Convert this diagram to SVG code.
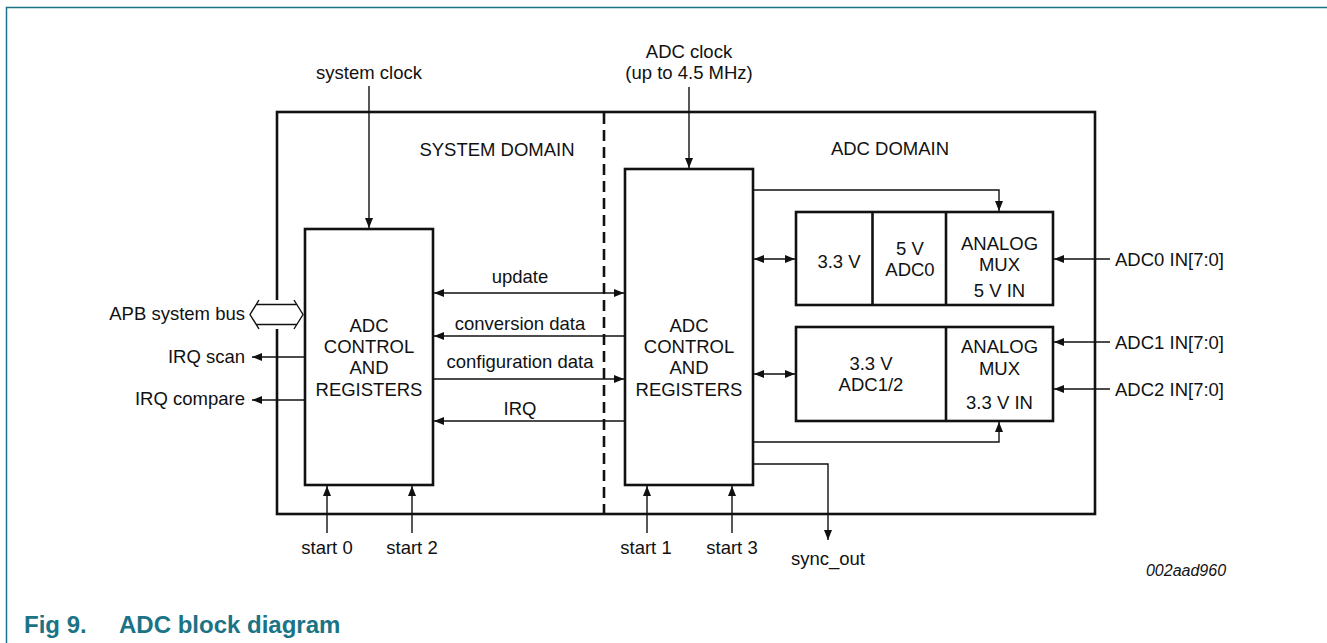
<svg xmlns="http://www.w3.org/2000/svg" width="1327" height="643" viewBox="0 0 1327 643">
<style>
text{font-family:"Liberation Sans",Arial,sans-serif;font-size:18.5px;fill:#111}
.c{text-anchor:middle}
.e{text-anchor:end}
.blk{fill:#fff;stroke:#111;stroke-width:2.6}
.ln{fill:none;stroke:#111;stroke-width:1.4}
.fig{font-weight:bold;font-size:24px;fill:#1b7386}
</style>
<defs>
<marker id="ah" viewBox="0 0 10 8" refX="10" refY="4" markerWidth="10" markerHeight="8" orient="auto-start-reverse" markerUnits="userSpaceOnUse"><path d="M0,0 L10,4 L0,8 z" fill="#111"/></marker>
</defs>
<rect width="1327" height="643" fill="#fff"/>
<path d="M6.5,643 V7.5 H1327" fill="none" stroke="#1b7386" stroke-width="1.5"/>

<g id="frame">
<rect x="277" y="112" width="818" height="402" fill="none" stroke="#111" stroke-width="2.6"/>
<line x1="604" y1="113" x2="604" y2="513" stroke="#111" stroke-width="2.6" stroke-dasharray="11,6"/>
<text class="c" x="497" y="156">SYSTEM DOMAIN</text>
<text class="c" x="890" y="155">ADC DOMAIN</text>
</g>

<g id="sys-ctrl">
<rect class="blk" x="305" y="229" width="128" height="256"/>
<text class="c" x="369" y="332">ADC</text>
<text class="c" x="369" y="353">CONTROL</text>
<text class="c" x="369" y="374">AND</text>
<text class="c" x="369" y="395.5">REGISTERS</text>
</g>

<g id="adc-ctrl">
<rect class="blk" x="625" y="169" width="128" height="316"/>
<text class="c" x="689" y="332">ADC</text>
<text class="c" x="689" y="353">CONTROL</text>
<text class="c" x="689" y="374">AND</text>
<text class="c" x="689" y="395.5">REGISTERS</text>
</g>

<g id="adc0">
<rect class="blk" x="796" y="212" width="257" height="93"/>
<line x1="872.5" y1="212" x2="872.5" y2="305" stroke="#111" stroke-width="2.6"/>
<line x1="946" y1="212" x2="946" y2="305" stroke="#111" stroke-width="2.6"/>
<text class="c" x="839" y="268">3.3 V</text>
<text class="c" x="910" y="255">5 V</text>
<text class="c" x="910" y="276">ADC0</text>
<text class="c" x="999.5" y="250">ANALOG</text>
<text class="c" x="999.5" y="271">MUX</text>
<text class="c" x="999.5" y="297">5 V IN</text>
</g>

<g id="adc12">
<rect class="blk" x="796" y="327" width="257" height="94"/>
<line x1="946" y1="327" x2="946" y2="421" stroke="#111" stroke-width="2.6"/>
<text class="c" x="871" y="370">3.3 V</text>
<text class="c" x="871" y="391">ADC1/2</text>
<text class="c" x="999.5" y="353">ANALOG</text>
<text class="c" x="999.5" y="375">MUX</text>
<text class="c" x="999.5" y="409">3.3 V IN</text>
</g>

<g id="apb-bus">
<rect x="270" y="300" width="14" height="29" fill="#fff"/>
<path d="M259,300 L250,314.5 L259,329 M294,300 L303,314.5 L294,329 M256.2,304.5 H296.8 M256.2,324.5 H296.8" fill="none" stroke="#111" stroke-width="1.4"/>
<text class="e" x="245" y="320">APB system bus</text>
</g>

<g id="connectors">
<line class="ln" x1="369" y1="86" x2="369" y2="228" marker-end="url(#ah)"/>
<line class="ln" x1="689" y1="87" x2="689" y2="168" marker-end="url(#ah)"/>
<line class="ln" x1="434" y1="293" x2="624" y2="293" marker-start="url(#ah)" marker-end="url(#ah)"/>
<line class="ln" x1="625" y1="336" x2="434" y2="336" marker-end="url(#ah)"/>
<line class="ln" x1="433" y1="379" x2="624" y2="379" marker-end="url(#ah)"/>
<line class="ln" x1="625" y1="421" x2="434" y2="421" marker-end="url(#ah)"/>
<line class="ln" x1="305" y1="357" x2="252" y2="357" marker-end="url(#ah)"/>
<line class="ln" x1="305" y1="400" x2="252" y2="400" marker-end="url(#ah)"/>
<line class="ln" x1="327" y1="533" x2="327" y2="486" marker-end="url(#ah)"/>
<line class="ln" x1="412" y1="533" x2="412" y2="486" marker-end="url(#ah)"/>
<line class="ln" x1="647" y1="533" x2="647" y2="486" marker-end="url(#ah)"/>
<line class="ln" x1="732" y1="533" x2="732" y2="486" marker-end="url(#ah)"/>
<polyline class="ln" points="754,464 828,464 828,540" marker-end="url(#ah)"/>
<line class="ln" x1="754" y1="259" x2="795" y2="259" marker-start="url(#ah)" marker-end="url(#ah)"/>
<line class="ln" x1="754" y1="374" x2="795" y2="374" marker-start="url(#ah)" marker-end="url(#ah)"/>
<polyline class="ln" points="754,190 999,190 999,211" marker-end="url(#ah)"/>
<polyline class="ln" points="754,442 999,442 999,422" marker-end="url(#ah)"/>
<line class="ln" x1="1110" y1="259" x2="1054" y2="259" marker-end="url(#ah)"/>
<line class="ln" x1="1110" y1="342" x2="1054" y2="342" marker-end="url(#ah)"/>
<line class="ln" x1="1110" y1="389" x2="1054" y2="389" marker-end="url(#ah)"/>
</g>

<g id="labels">
<text class="c" x="369" y="79">system clock</text>
<text class="c" x="689" y="58">ADC clock</text>
<text class="c" x="689" y="79">(up to 4.5 MHz)</text>
<text class="c" x="520" y="283">update</text>
<text class="c" x="520" y="330">conversion data</text>
<text class="c" x="520" y="368">configuration data</text>
<text class="c" x="520" y="415">IRQ</text>
<text class="e" x="245" y="363">IRQ scan</text>
<text class="e" x="245" y="405">IRQ compare</text>
<text class="c" x="327" y="554">start 0</text>
<text class="c" x="412" y="554">start 2</text>
<text class="c" x="646" y="554">start 1</text>
<text class="c" x="732" y="554">start 3</text>
<text class="c" x="828" y="565">sync_out</text>
<text x="1115" y="266">ADC0 IN[7:0]</text>
<text x="1115" y="349">ADC1 IN[7:0]</text>
<text x="1115" y="396">ADC2 IN[7:0]</text>
<text class="c" x="1186" y="576" style="font-style:italic;font-size:16px">002aad960</text>
</g>

<text class="fig" x="24" y="633">Fig 9.</text>
<text class="fig" x="119" y="633">ADC block diagram</text>
</svg>
